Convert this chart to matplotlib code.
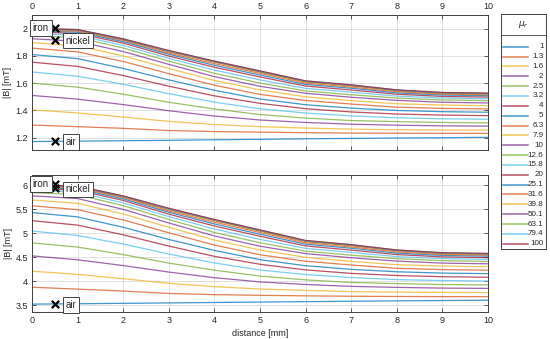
import numpy as np
import matplotlib
matplotlib.use("Agg")
import matplotlib.pyplot as plt

# ---------------------------------------------------------------------------
# data
distance_mm = [0, 1, 2, 3, 4, 5, 6, 7, 8, 9, 10]
mu_r = ["1", "1.3", "1.6", "2", "2.5", "3.2", "4", "5", "6.3", "7.9", "10",
        "12.6", "15.8", "20", "25.1", "31.6", "39.8", "50.1", "63.1", "79.4", "100"]

# upper panel, |B| in mT, one row per mu_r
B_top = [
    [1.172, 1.175, 1.178, 1.181, 1.185, 1.188, 1.192, 1.195, 1.198, 1.200, 1.203],
    [1.293, 1.281, 1.269, 1.253, 1.245, 1.241, 1.237, 1.234, 1.233, 1.232, 1.232],
    [1.404, 1.382, 1.352, 1.320, 1.297, 1.281, 1.271, 1.263, 1.259, 1.257, 1.256],
    [1.510, 1.483, 1.443, 1.398, 1.359, 1.330, 1.312, 1.299, 1.292, 1.287, 1.285],
    [1.600, 1.571, 1.519, 1.460, 1.411, 1.370, 1.344, 1.326, 1.318, 1.312, 1.309],
    [1.682, 1.651, 1.592, 1.523, 1.461, 1.412, 1.381, 1.360, 1.346, 1.339, 1.336],
    [1.754, 1.723, 1.656, 1.578, 1.507, 1.452, 1.413, 1.389, 1.374, 1.366, 1.362],
    [1.810, 1.780, 1.708, 1.624, 1.548, 1.484, 1.442, 1.417, 1.400, 1.391, 1.387],
    [1.857, 1.830, 1.759, 1.670, 1.585, 1.518, 1.473, 1.447, 1.424, 1.415, 1.411],
    [1.897, 1.874, 1.800, 1.708, 1.620, 1.551, 1.500, 1.472, 1.449, 1.440, 1.435],
    [1.926, 1.907, 1.832, 1.738, 1.648, 1.577, 1.526, 1.497, 1.474, 1.460, 1.455],
    [1.948, 1.934, 1.858, 1.762, 1.672, 1.601, 1.543, 1.515, 1.491, 1.477, 1.472],
    [1.963, 1.951, 1.877, 1.782, 1.696, 1.624, 1.562, 1.534, 1.505, 1.491, 1.486],
    [1.975, 1.965, 1.894, 1.799, 1.717, 1.646, 1.579, 1.550, 1.519, 1.503, 1.498],
    [1.983, 1.974, 1.905, 1.812, 1.731, 1.660, 1.591, 1.563, 1.529, 1.513, 1.508],
    [1.990, 1.982, 1.914, 1.821, 1.743, 1.672, 1.601, 1.572, 1.538, 1.520, 1.515],
    [1.995, 1.988, 1.919, 1.829, 1.753, 1.679, 1.608, 1.579, 1.544, 1.525, 1.520],
    [1.998, 1.990, 1.921, 1.833, 1.757, 1.684, 1.612, 1.583, 1.547, 1.528, 1.523],
    [2.000, 1.992, 1.923, 1.836, 1.759, 1.687, 1.614, 1.585, 1.549, 1.530, 1.525],
    [2.001, 1.993, 1.924, 1.838, 1.761, 1.689, 1.616, 1.587, 1.550, 1.531, 1.526],
    [2.002, 1.993, 1.925, 1.840, 1.762, 1.690, 1.617, 1.588, 1.551, 1.532, 1.527],
]

# lower panel
B_bot = [
    [3.528, 3.536, 3.545, 3.553, 3.562, 3.571, 3.580, 3.588, 3.596, 3.603, 3.610],
    [3.879, 3.840, 3.800, 3.750, 3.725, 3.711, 3.700, 3.692, 3.687, 3.684, 3.683],
    [4.212, 4.146, 4.056, 3.960, 3.891, 3.843, 3.813, 3.789, 3.777, 3.771, 3.768],
    [4.530, 4.449, 4.329, 4.194, 4.077, 3.990, 3.936, 3.897, 3.876, 3.861, 3.855],
    [4.800, 4.713, 4.557, 4.380, 4.233, 4.110, 4.032, 3.978, 3.954, 3.936, 3.927],
    [5.046, 4.953, 4.776, 4.569, 4.383, 4.236, 4.143, 4.080, 4.038, 4.017, 4.008],
    [5.262, 5.169, 4.968, 4.734, 4.521, 4.356, 4.239, 4.167, 4.122, 4.098, 4.086],
    [5.430, 5.340, 5.124, 4.872, 4.644, 4.452, 4.326, 4.251, 4.200, 4.173, 4.161],
    [5.571, 5.490, 5.277, 5.010, 4.755, 4.554, 4.419, 4.341, 4.272, 4.245, 4.233],
    [5.691, 5.622, 5.400, 5.124, 4.860, 4.653, 4.500, 4.416, 4.347, 4.320, 4.305],
    [5.778, 5.721, 5.496, 5.214, 4.944, 4.731, 4.578, 4.491, 4.422, 4.380, 4.365],
    [5.844, 5.802, 5.574, 5.286, 5.016, 4.803, 4.629, 4.545, 4.473, 4.431, 4.416],
    [5.889, 5.853, 5.631, 5.346, 5.088, 4.872, 4.686, 4.602, 4.515, 4.473, 4.458],
    [5.925, 5.895, 5.682, 5.397, 5.151, 4.938, 4.737, 4.650, 4.557, 4.509, 4.494],
    [5.949, 5.922, 5.715, 5.436, 5.193, 4.980, 4.773, 4.689, 4.587, 4.539, 4.524],
    [5.970, 5.946, 5.742, 5.463, 5.229, 5.016, 4.803, 4.716, 4.614, 4.560, 4.545],
    [5.985, 5.964, 5.757, 5.487, 5.259, 5.037, 4.824, 4.737, 4.632, 4.575, 4.560],
    [5.994, 5.970, 5.763, 5.499, 5.271, 5.052, 4.836, 4.749, 4.641, 4.584, 4.569],
    [6.000, 5.976, 5.769, 5.508, 5.277, 5.061, 4.842, 4.755, 4.647, 4.590, 4.575],
    [6.003, 5.979, 5.772, 5.514, 5.283, 5.067, 4.848, 4.761, 4.650, 4.593, 4.578],
    [6.006, 5.979, 5.775, 5.520, 5.286, 5.070, 4.851, 4.764, 4.653, 4.596, 4.581],
]

# material markers (x, |B|)
materials = ["iron", "nickel", "air"]
mat_x = [0.5, 0.5, 0.5]
mat_top = [2.005, 1.92, 1.178]
mat_bot = [6.02, 5.93, 3.53]

# ---------------------------------------------------------------------------
matlab_colors = ["#0072BD", "#D95319", "#EDB120", "#7E2F8E",
                 "#77AC30", "#4DBEEE", "#A2142F"]
line_alpha = 0.75
txt_col = "#262626"
spine_col = "#404040"

plt.rcParams["font.family"] = ["Liberation Sans", "DejaVu Sans"]
plt.rcParams["font.size"] = 6.5

W, H = 550, 339
fig = plt.figure(figsize=(W / 100, H / 100), dpi=100)


def px_axes(l, t, r, b):
    # rectangle in pixel coords (top-left origin)
    return fig.add_axes([l / W, 1 - b / H, (r - l) / W, (b - t) / H])


ax_top = px_axes(32, 15, 488, 150)
ax_bot = px_axes(32, 175, 488, 311.5)

for ax, data, mat_y, ylim, yticks in [
    (ax_top, B_top, mat_top, (1.11, 2.1), [1.2, 1.4, 1.6, 1.8, 2]),
    (ax_bot, B_bot, mat_bot, (3.375, 6.21), [3.5, 4, 4.5, 5, 5.5, 6]),
]:
    for i, row in enumerate(data):
        ax.plot(distance_mm, row, color=matlab_colors[i % 7], lw=0.9,
                alpha=line_alpha, zorder=2)
    ax.set_xlim(0, 10)
    ax.set_ylim(*ylim)
    ax.set_xticks(range(11))
    ax.set_yticks(yticks)
    ax.set_yticklabels([f"{v:g}" for v in yticks])
    ax.grid(True, color="#dcdcdc", lw=0.6)
    ax.set_axisbelow(True)
    ax.tick_params(direction="in", length=3, width=0.6, colors=spine_col,
                   labelcolor=txt_col, top=True, right=True, pad=3)
    for s in ax.spines.values():
        s.set_color(spine_col)
        s.set_linewidth(0.7)
    ax.set_ylabel("|B| [mT]", color=txt_col, fontsize=6.5, labelpad=2)

    ax.scatter(mat_x, mat_y, marker="x", s=28, color="black", lw=1.6, zorder=5)
    bbox = dict(boxstyle="square,pad=0.3", fc="white", ec="#404040", lw=0.7)
    offsets = [(-6, 0, "right"), (11, -1, "left"), (11, -1, "left")]
    for name, xv, yv, (dx, dy, ha) in zip(materials, mat_x, mat_y, offsets):
        ax.annotate(name, (xv, yv), xytext=(dx, dy), textcoords="offset pixels",
                    ha=ha, va="center", fontsize=7, color=txt_col, bbox=bbox,
                    annotation_clip=False, zorder=6)

ax_top.xaxis.set_ticks_position("both")
ax_top.tick_params(labeltop=True, labelbottom=False)
ax_bot.set_xlabel("distance [mm]", color=txt_col, fontsize=6.5, labelpad=3)

# legend drawn as its own box
lg = px_axes(500.5, 14, 545.5, 249)
lg.set_xlim(0, 45)
lg.set_ylim(235, 0)
lg.set_xticks([])
lg.set_yticks([])
for s in lg.spines.values():
    s.set_color(spine_col)
    s.set_linewidth(0.7)
lg.text(22.5, 11, r"$\mu_r$", ha="center", va="center", fontsize=6.5, color=txt_col)
lg.plot([0, 45], [21, 21], color=spine_col, lw=0.6)
for i, lab in enumerate(mu_r):
    yy = 32.7 + i * 9.85
    lg.plot([2.8, 27.0], [yy, yy], color=matlab_colors[i % 7], lw=1.1, alpha=line_alpha)
    lg.text(43.0, yy, lab, ha="right", va="center", fontsize=5.8, color=txt_col)

fig.savefig("out.png", dpi=100)
